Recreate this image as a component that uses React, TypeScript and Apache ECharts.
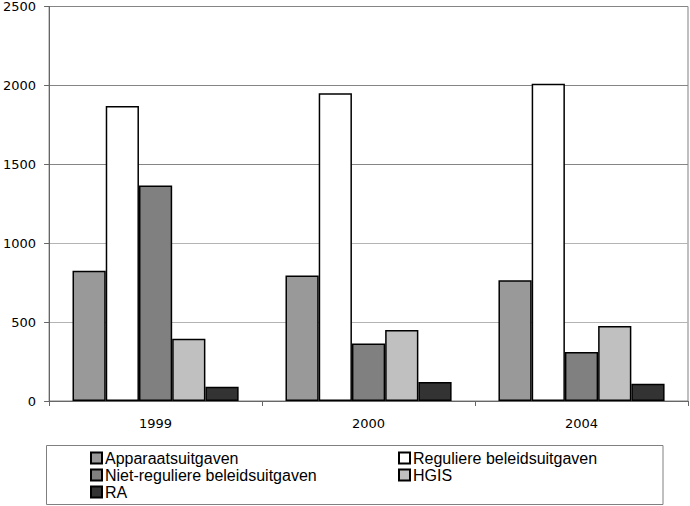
import React, { useEffect, useRef } from "react";
import * as echarts from "echarts";

const categories = ["1999", "2000", "2004"];
const seriesNames = [
  "Apparaatsuitgaven",
  "Reguliere beleidsuitgaven",
  "Niet-reguliere beleidsuitgaven",
  "HGIS",
  "RA",
];
const apparaat = [825, 795, 765];
const reguliere = [1870, 1950, 2010];
const nietReguliere = [1365, 365, 310];
const hgis = [395, 450, 475];
const ra = [90, 120, 110];
const colors = ["#999999", "#ffffff", "#808080", "#c0c0c0", "#333333"];
const yTicks = [0, 500, 1000, 1500, 2000, 2500];

export default function App() {
  const ref = useRef<HTMLDivElement>(null);
  useEffect(() => {
    if (!ref.current) return;
    const chart = echarts.init(ref.current, null, { renderer: "svg" });
    const values = [apparaat, reguliere, nietReguliere, hgis, ra];
    const font = "DejaVu Sans";
    const legendFont = "Liberation Sans";
    const legendCommon = {
      orient: "vertical",
      top: 450,
      itemWidth: 11,
      itemHeight: 11,
      itemGap: 1,
      icon: "rect",
      textStyle: {
        color: "#000",
        fontSize: 16,
        lineHeight: 16,
        fontFamily: legendFont,
        padding: [0, 0, 0, -2],
      },
      selectedMode: false,
      padding: 0,
    };
    chart.setOption({
      animation: false,
      textStyle: { fontFamily: font },
      grid: {
        left: 47,
        right: 2,
        top: 5,
        bottom: 105,
        show: true,
        borderColor: "#808080",
        borderWidth: 1,
        backgroundColor: "#ffffff",
      },
      xAxis: {
        type: "category",
        data: categories,
        axisLine: { lineStyle: { color: "#666", width: 1 } },
        axisTick: { show: true, length: 5, lineStyle: { color: "#666" } },
        axisLabel: { color: "#000", fontSize: 13, fontFamily: font, margin: 16 },
      },
      yAxis: {
        type: "value",
        min: yTicks[0],
        max: yTicks[yTicks.length - 1],
        interval: 500,
        axisLine: { show: true, lineStyle: { color: "#666", width: 1 } },
        axisTick: { show: true, length: 5, lineStyle: { color: "#666" } },
        axisLabel: {
          color: "#000",
          fontSize: 13,
          fontFamily: font,
          margin: 13,
          formatter: (v: number) => String(v),
        },
        splitLine: {
          show: true,
          lineStyle: {
            color: ["#999999", "#b4b4b4", "#b4b4b4", "#858585", "#858585", "#858585"],
            width: 1,
          },
        },
      },
      legend: [
        { ...legendCommon, left: 90, data: [seriesNames[0], seriesNames[2], seriesNames[4]] },
        { ...legendCommon, left: 398, data: [seriesNames[1], seriesNames[3]] },
      ],
      graphic: [
        {
          type: "rect",
          x: 0,
          y: 0,
          shape: { x: 46.5, y: 445.5, width: 616.5, height: 59 },
          style: { fill: "none", stroke: "#808080", lineWidth: 1 },
          silent: true,
          z: -1,
        },
      ],
      series: seriesNames.map((name, i) => ({
        name,
        type: "bar",
        data: values[i],
        barGap: "0%",
        barCategoryGap: "22%",
        itemStyle: { color: colors[i], borderColor: "#000", borderWidth: 1.5 },
      })),
    });
    return () => chart.dispose();
  }, []);
  return <div ref={ref} style={{ width: 690, height: 506, position: "absolute", left: 0, top: 0 }} />;
}
